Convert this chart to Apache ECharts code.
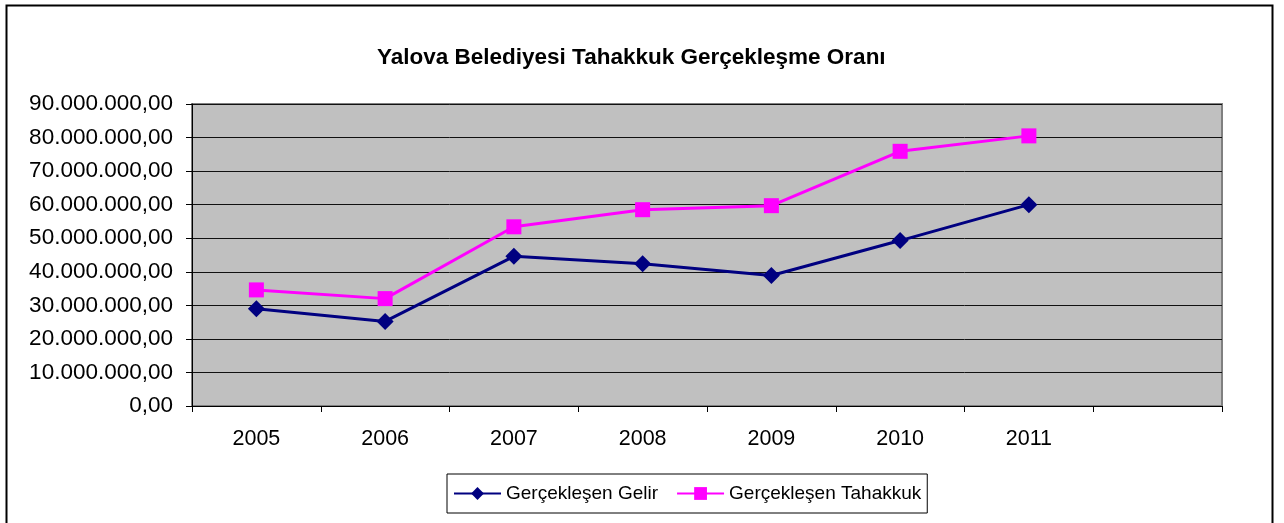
<!DOCTYPE html>
<html style="height: 100%">
<head>
    <meta charset="utf-8">
    <script src="https://cdn.jsdelivr.net/npm/echarts@6/dist/echarts.min.js"></script>
</head>
<body style="height: 100%; margin: 0; background: #fff">
    <div id="container" style="width: 1284px; height: 523px"></div>
    <script type="text/javascript">

        let years = ['2005', '2006', '2007', '2008', '2009', '2010', '2011', '']
        let gelir = [29000000, 25200000, 44600000, 42400000, 38900000, 49300000, 60000000, null]
        let tahakkuk = [34600000, 32000000, 53400000, 58500000, 59700000, 75900000, 80500000, null]

        // turkish number format: 90.000.000,00
        function trFormat(v) {
            let s = Math.round(v).toString().replace(/\B(?=(\d{3})+(?!\d))/g, '.')
            return s + ',00'
        }

        let font = 'Liberation Sans, Arial, sans-serif'
        let chart = echarts.init(document.getElementById('container'))
        chart.setOption({
            animation: false,
            textStyle: { fontFamily: font },
            title: {
                text: 'Yalova Belediyesi Tahakkuk Gerçekleşme Oranı',
                left: 372, top: 41,
                textStyle: { fontSize: 22.5, fontWeight: 'bold', color: '#000', fontFamily: font }
            },
            graphic: [{
                type: 'rect',
                shape: { x: 6.5, y: 5.5, width: 1266, height: 540 },
                style: { fill: 'none', stroke: '#000', lineWidth: 2 },
                z: -1
            }],
            legend: {
                bottom: 10, left: 447,
                itemWidth: 47, itemHeight: 16, itemGap: 18,
                padding: [10, 6, 10, 6],
                borderColor: '#000', borderWidth: 1,
                textStyle: { fontSize: 19, color: '#000', fontFamily: font },
                data: ['Gerçekleşen Gelir', 'Gerçekleşen Tahakkuk']
            },
            grid: {
                left: 192, top: 104, right: 62, bottom: 117,
                show: true, backgroundColor: '#c0c0c0', borderColor: '#808080', borderWidth: 2
            },
            xAxis: {
                type: 'category',
                data: years,
                boundaryGap: true,
                axisLine: { lineStyle: { color: '#000', width: 1 } },
                axisTick: { show: true, interval: 0, length: 6, lineStyle: { color: '#000' } },
                axisLabel: { interval: 0, fontSize: 21.5, color: '#000', margin: 22 }
            },
            yAxis: {
                type: 'value',
                min: 0, max: 90000000, interval: 10000000,
                axisLine: { show: true, lineStyle: { color: '#000', width: 1 } },
                axisTick: { show: true, length: 6, lineStyle: { color: '#000' } },
                axisLabel: { fontSize: 22.5, color: '#000', margin: 19, formatter: trFormat },
                splitLine: { lineStyle: { color: '#111', width: 1 } }
            },
            series: [
                {
                    name: 'Gerçekleşen Gelir',
                    type: 'line',
                    data: gelir,
                    symbol: 'diamond',
                    symbolSize: 17,
                    showAllSymbol: true,
                    itemStyle: { color: '#000080' },
                    lineStyle: { color: '#000080', width: 3 }
                },
                {
                    name: 'Gerçekleşen Tahakkuk',
                    type: 'line',
                    data: tahakkuk,
                    symbol: 'rect',
                    symbolSize: 15,
                    showAllSymbol: true,
                    itemStyle: { color: '#ff00ff' },
                    lineStyle: { color: '#ff00ff', width: 3 }
                }
            ]
        })

    </script>
</body>
</html>
